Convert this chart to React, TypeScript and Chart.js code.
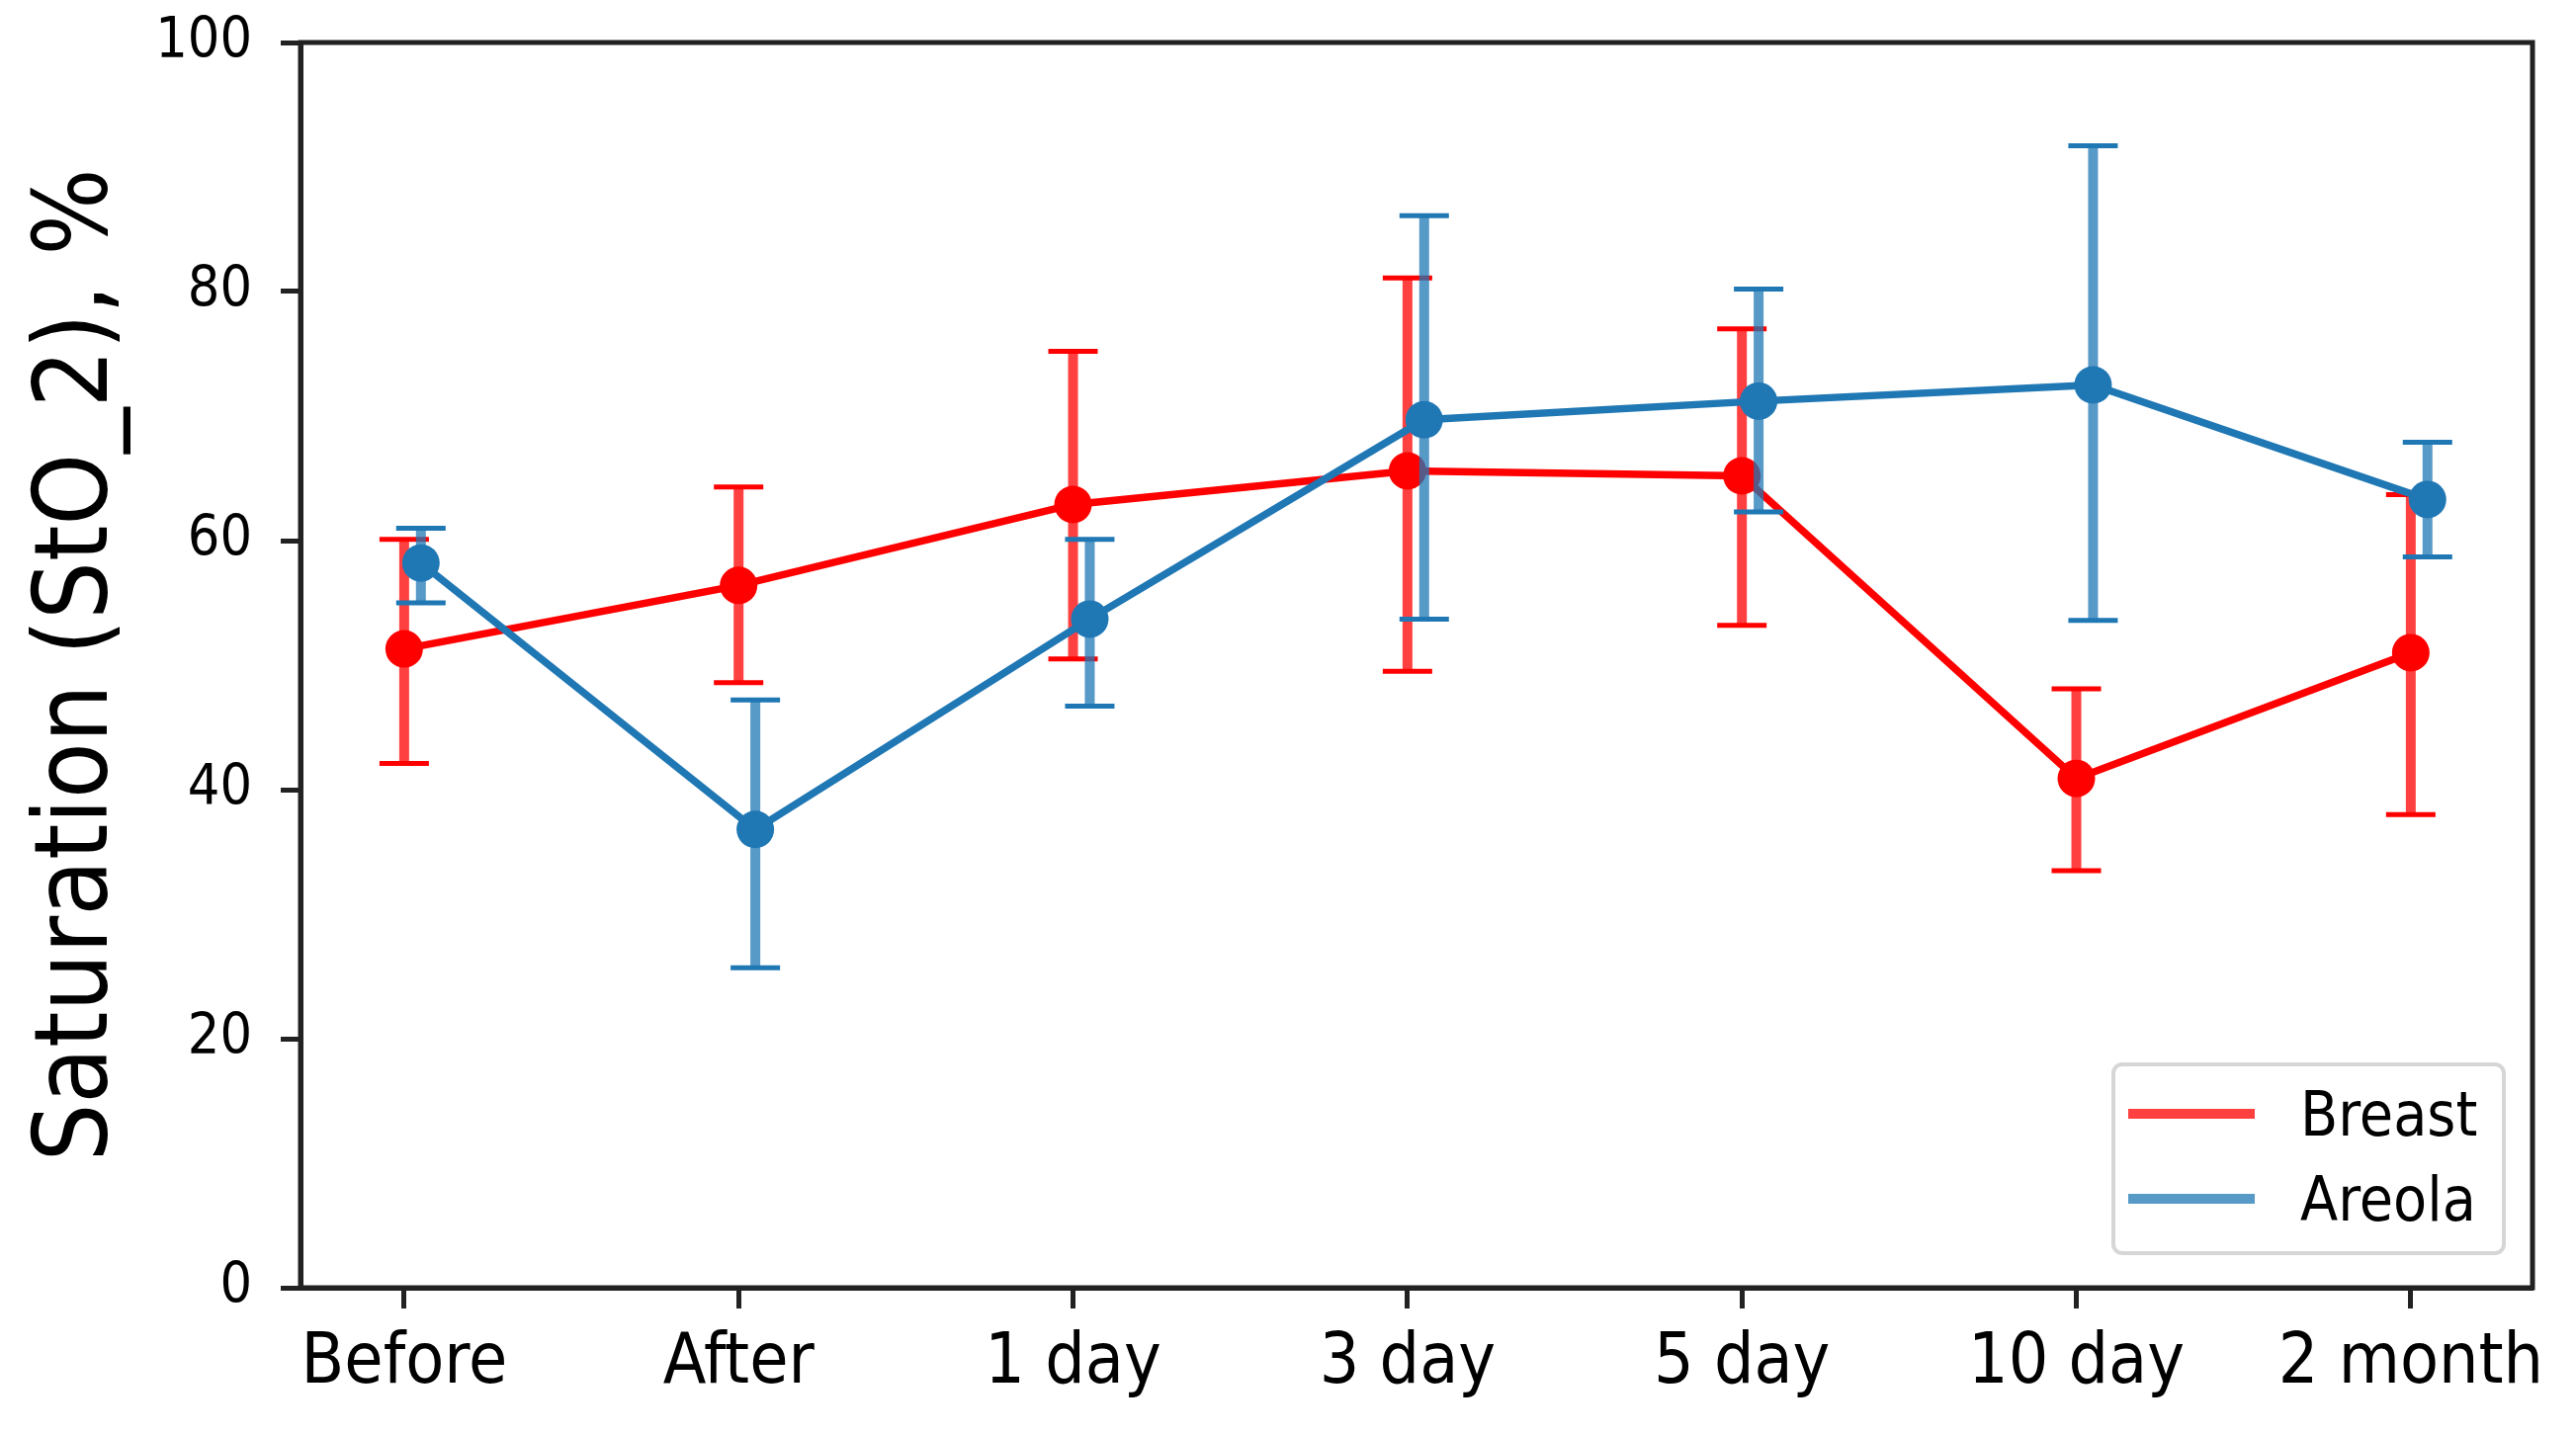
import { useEffect, useRef } from 'react';
import { Chart, registerables } from 'chart.js';

Chart.register(...registerables);

const categories = ['Before', 'After', '1 day', '3 day', '5 day', '10 day', '2 month'];
const breastMean = [51.3, 56.4, 62.9, 65.6, 65.2, 40.9, 51.0];
const breastLow = [42.1, 48.6, 50.5, 49.5, 53.2, 33.5, 38.0];
const breastHigh = [60.1, 64.3, 75.2, 81.1, 77.0, 48.1, 63.7];
const areolaMean = [58.2, 36.8, 53.7, 69.7, 71.2, 72.5, 63.3];
const areolaLow = [55.0, 25.7, 46.7, 53.7, 62.3, 53.6, 58.7];
const areolaHigh = [61.0, 47.2, 60.1, 86.1, 80.2, 91.7, 67.9];
const yTicks = [0, 20, 40, 60, 80, 100];

// areola points are dodged a little to the right of each category
const areolaShift = 0.05;

const FONT = "'DejaVu Sans Condensed', 'DejaVu Sans', sans-serif";
const RED = '#ff0000';
const RED_BAR = 'rgba(255,0,0,0.75)';
const BLUE = '#1f77b4';
const BLUE_BAR = 'rgba(31,119,180,0.75)';
const FRAME = '#222222';

const errorBars = {
  id: 'errorBars',
  beforeDatasetDraw(chart: any, args: any) {
    const ds: any = chart.data.datasets[args.index];
    if (!ds.errLow) return;
    const { ctx } = chart;
    const y = chart.scales.y;
    const cap = 25;
    ctx.save();
    args.meta.data.forEach((pt: any, i: number) => {
      const top = y.getPixelForValue(ds.errHigh[i]);
      const bot = y.getPixelForValue(ds.errLow[i]);
      ctx.strokeStyle = ds.barColor;
      ctx.lineWidth = 10;
      ctx.beginPath();
      ctx.moveTo(pt.x, top);
      ctx.lineTo(pt.x, bot);
      ctx.stroke();
      ctx.strokeStyle = ds.borderColor;
      ctx.lineWidth = 5;
      ctx.beginPath();
      ctx.moveTo(pt.x - cap, top);
      ctx.lineTo(pt.x + cap, top);
      ctx.moveTo(pt.x - cap, bot);
      ctx.lineTo(pt.x + cap, bot);
      ctx.stroke();
    });
    ctx.restore();
  },
};

const frameAndLegend = {
  id: 'frameAndLegend',
  afterDatasetsDraw(chart: any) {
    const { ctx, chartArea: a } = chart;
    ctx.save();
    ctx.strokeStyle = FRAME;
    ctx.lineWidth = 5;
    ctx.strokeRect(a.left, a.top, a.right - a.left, a.bottom - a.top);

    // legend box in lower right corner
    const w = 395;
    const h = 191;
    const x0 = a.right - 29 - w;
    const y0 = a.bottom - 35 - h;
    ctx.beginPath();
    ctx.roundRect(x0, y0, w, h, 9);
    ctx.fillStyle = 'rgba(255,255,255,0.8)';
    ctx.fill();
    ctx.strokeStyle = '#d6d6d6';
    ctx.lineWidth = 4;
    ctx.stroke();
    ctx.font = `62px ${FONT}`;
    ctx.textBaseline = 'alphabetic';
    ctx.textAlign = 'left';
    chart.data.datasets.forEach((ds: any, i: number) => {
      const ly = y0 + 50 + i * 86;
      ctx.strokeStyle = ds.barColor;
      ctx.lineWidth = 10;
      ctx.beginPath();
      ctx.moveTo(x0 + 15, ly);
      ctx.lineTo(x0 + 143, ly);
      ctx.stroke();
      ctx.fillStyle = '#000';
      ctx.fillText(ds.label, x0 + 189, ly + 22);
    });
    ctx.restore();
  },
};

export default function App() {
  const canvasRef = useRef<HTMLCanvasElement | null>(null);
  const chartRef = useRef<Chart | null>(null);

  useEffect(() => {
    if (chartRef.current) chartRef.current.destroy();
    const ctx = canvasRef.current?.getContext('2d');
    if (!ctx) return;

    chartRef.current = new Chart(ctx, {
      type: 'line',
      data: {
        datasets: [
          {
            label: 'Breast',
            data: breastMean.map((v, i) => ({ x: i, y: v })),
            errLow: breastLow,
            errHigh: breastHigh,
            barColor: RED_BAR,
            borderColor: RED,
            backgroundColor: RED,
            borderWidth: 7.5,
            pointRadius: 19,
            pointBorderWidth: 0,
            pointBackgroundColor: RED,
            tension: 0,
            order: 1,
          } as any,
          {
            label: 'Areola',
            data: areolaMean.map((v, i) => ({ x: i + areolaShift, y: v })),
            errLow: areolaLow,
            errHigh: areolaHigh,
            barColor: BLUE_BAR,
            borderColor: BLUE,
            backgroundColor: BLUE,
            borderWidth: 7.5,
            pointRadius: 19,
            pointBorderWidth: 0,
            pointBackgroundColor: BLUE,
            tension: 0,
            order: 0,
          } as any,
        ],
      },
      options: {
        animation: false,
        responsive: true,
        maintainAspectRatio: false,
        layout: { padding: { top: 43, right: 44, left: 0, bottom: 0 } },
        plugins: {
          legend: { display: false },
          tooltip: { enabled: false },
        },
        scales: {
          x: {
            type: 'linear',
            min: -0.31,
            max: 6.364,
            afterBuildTicks: (scale: any) => {
              scale.ticks = categories.map((_, i) => ({ value: i }));
            },
            afterFit: (scale: any) => {
              scale.height = 148;
            },
            ticks: {
              autoSkip: false,
              maxRotation: 0,
              padding: 14,
              color: '#000',
              font: { family: FONT, size: 71 },
              callback: (v: any) => categories[v],
            },
            grid: {
              drawOnChartArea: false,
              drawTicks: true,
              tickLength: 21,
              tickWidth: 5,
              tickColor: FRAME,
            },
            border: { display: true, color: FRAME, width: 5 },
          },
          y: {
            min: 0,
            max: 100,
            afterBuildTicks: (scale: any) => {
              scale.ticks = yTicks.map((v) => ({ value: v }));
            },
            afterFit: (scale: any) => {
              scale.width = 304;
              scale.paddingTop = 0;
              scale.paddingBottom = 0;
            },
            ticks: {
              padding: 29,
              color: '#000',
              font: { family: FONT, size: 57 },
            },
            grid: {
              drawOnChartArea: false,
              drawTicks: true,
              tickLength: 20,
              tickWidth: 5,
              tickColor: FRAME,
            },
            border: { display: true, color: FRAME, width: 5 },
            title: {
              display: true,
              text: 'Saturation (StO_2), %',
              color: '#000',
              font: { family: FONT, size: 103, weight: 'normal' },
              padding: { top: 19, bottom: 0 },
            },
          },
        },
      },
      plugins: [errorBars, frameAndLegend],
    });

    return () => {
      if (chartRef.current) {
        chartRef.current.destroy();
        chartRef.current = null;
      }
    };
  }, []);

  return (
    <div style={{ position: 'absolute', left: 0, top: 0, width: 2606, height: 1451, background: '#fff' }}>
      <canvas ref={canvasRef}></canvas>
    </div>
  );
}
